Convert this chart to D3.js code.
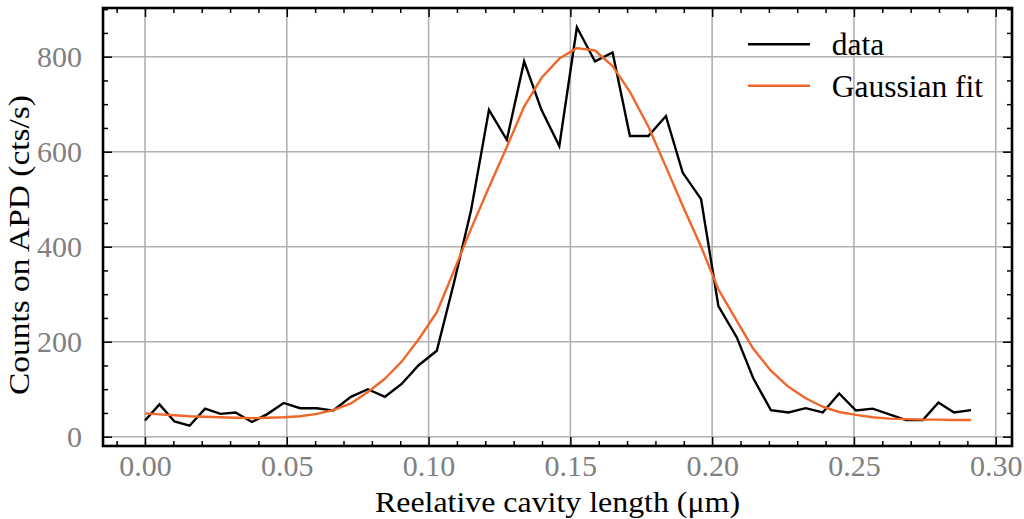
<!DOCTYPE html>
<html>
<head>
<meta charset="utf-8">
<script src="https://cdn.jsdelivr.net/npm/d3@7"></script>
<style>
  html, body { margin: 0; padding: 0; background: #fff; }
  svg { display: block; }
  text { font-family: "Liberation Serif", "Times New Roman", serif; }
</style>
</head>
<body>
<svg id="chart" width="1024" height="519"></svg>
<script>
// ---- data ----
const xValues = [0.0000, 0.0051, 0.0104, 0.0157, 0.0212, 0.0266, 0.0319, 0.0377, 0.0430, 0.0489,
                 0.0547, 0.0606, 0.0664, 0.0726, 0.0786, 0.0846, 0.0905, 0.0964, 0.1029, 0.1090,
                 0.1150, 0.1213, 0.1276, 0.1337, 0.1398, 0.1461, 0.1523, 0.1587, 0.1649, 0.1710,
                 0.1775, 0.1837, 0.1896, 0.1961, 0.2022, 0.2087, 0.2145, 0.2207, 0.2269, 0.2330,
                 0.2390, 0.2448, 0.2507, 0.2566, 0.2625, 0.2684, 0.2743, 0.2798, 0.2853, 0.2913];
const dataCounts = [34, 68, 32, 23, 59, 48, 51, 31, 47, 71,
                    60, 60, 55, 84, 100, 84, 111, 150, 181, 325,
                    477, 688, 625, 790, 688, 612, 862, 790, 809, 633,
                    633, 675, 556, 500, 275, 209, 123, 56, 51, 60,
                    51, 91, 55, 59, 47, 35, 35, 72, 51, 56];
const fitCounts = [49, 47, 45, 43, 42, 41, 40, 39, 40, 41,
                   43, 48, 56, 70, 94, 122, 158, 204, 262, 350,
                   438, 525, 610, 695, 755, 796, 818, 813, 780, 726,
                   653, 568, 486, 400, 310, 244, 185, 139, 105, 81,
                   63, 52, 46, 41, 38, 37, 36, 36, 35, 35];
const xTicks = [0.00, 0.05, 0.10, 0.15, 0.20, 0.25, 0.30];
const xTickLabels = ["0.00", "0.05", "0.10", "0.15", "0.20", "0.25", "0.30"];
const yTicks = [0, 200, 400, 600, 800];
const yTickLabels = ["0", "200", "400", "600", "800"];
const seriesNames = ["data", "Gaussian fit"];
const seriesColors = ["#000000", "#f0672a"];
const xTitle = "Reelative cavity length (\u03bcm)";
const yTitle = "Counts on APD (cts/s)";

// ---- layout ----
const L = 103, R = 1012, T = 8, B = 446;
const svg = d3.select("#chart");
const x = d3.scaleLinear().domain([-0.01481, 0.30574]).range([L, R]);
const y = d3.scaleLinear().domain([-19.6, 902.5]).range([B, T]);

const xMinor = d3.range(-10, 31).map(i => i / 100).filter(v => x(v) > L + 1 && x(v) < R - 1);
const yMinor = d3.range(0, 19).map(i => i * 50).filter(v => y(v) > T + 1 && y(v) < B - 1);

// grid
const grid = svg.append("g");
grid.selectAll("line.gx").data(xTicks).join("line")
  .attr("x1", d => x(d)).attr("x2", d => x(d)).attr("y1", T).attr("y2", B)
  .attr("stroke", "#b0b0b0").attr("stroke-width", 1.6);
grid.selectAll("line.gy").data(yTicks).join("line")
  .attr("y1", d => y(d)).attr("y2", d => y(d)).attr("x1", L).attr("x2", R)
  .attr("stroke", "#b0b0b0").attr("stroke-width", 1.6);

// lines
const pts = xValues.map((v, i) => ({x: v, d: dataCounts[i], f: fitCounts[i]}));
svg.append("clipPath").attr("id", "clip").append("rect")
  .attr("x", L).attr("y", T).attr("width", R - L).attr("height", B - T);
const plot = svg.append("g").attr("clip-path", "url(#clip)");
plot.append("path").datum(pts)
  .attr("d", d3.line().x(p => x(p.x)).y(p => y(p.d)))
  .attr("fill", "none").attr("stroke", seriesColors[0]).attr("stroke-width", 2.4)
  .attr("stroke-linejoin", "miter");
plot.append("path").datum(pts)
  .attr("d", d3.line().x(p => x(p.x)).y(p => y(p.f)))
  .attr("fill", "none").attr("stroke", seriesColors[1]).attr("stroke-width", 2.4)
  .attr("stroke-linejoin", "round");

// ticks (inward on all sides)
function tickAxis(axisFn, scale, values, size, transform) {
  const g = svg.append("g").attr("transform", transform)
    .call(axisFn(scale).tickValues(values).tickSizeInner(-size).tickSizeOuter(0).tickFormat(""));
  g.select(".domain").remove();
  g.selectAll(".tick line").attr("stroke", "#000").attr("stroke-width", 1.5);
  return g;
}
const xMinorOnly = xMinor.filter(v => !xTicks.some(t => Math.abs(t - v) < 1e-9));
const yMinorOnly = yMinor.filter(v => !yTicks.includes(v));
tickAxis(d3.axisBottom, x, xTicks, 9, `translate(0,${B})`);
tickAxis(d3.axisBottom, x, xMinorOnly, 5, `translate(0,${B})`);
tickAxis(d3.axisTop, x, xTicks, 9, `translate(0,${T})`);
tickAxis(d3.axisTop, x, xMinorOnly, 5, `translate(0,${T})`);
tickAxis(d3.axisLeft, y, yTicks, 9, `translate(${L},0)`);
tickAxis(d3.axisLeft, y, yMinorOnly, 5, `translate(${L},0)`);
tickAxis(d3.axisRight, y, yTicks, 9, `translate(${R},0)`);
tickAxis(d3.axisRight, y, yMinorOnly, 5, `translate(${R},0)`);

// tick labels
const xl = svg.append("g").attr("transform", `translate(0,${B})`)
  .call(d3.axisBottom(x).tickValues(xTicks).tickSize(0).tickFormat((d, i) => xTickLabels[i]));
xl.select(".domain").remove();
xl.selectAll("text").attr("y", 30).attr("dy", 0)
  .attr("font-size", 30).attr("fill", "#808080").attr("font-family", "Liberation Serif, serif");

const yl = svg.append("g").attr("transform", `translate(${L},0)`)
  .call(d3.axisLeft(y).tickValues(yTicks).tickSize(0).tickFormat((d, i) => yTickLabels[i]));
yl.select(".domain").remove();
yl.selectAll("text").attr("x", -21).attr("dy", "0.32em")
  .attr("font-size", 30).attr("fill", "#808080").attr("font-family", "Liberation Serif, serif");

// frame
svg.append("rect").attr("x", L).attr("y", T).attr("width", R - L).attr("height", B - T)
  .attr("fill", "none").attr("stroke", "#000").attr("stroke-width", 2.6);

// axis titles
svg.append("text").attr("x", (L + R) / 2).attr("y", 512)
  .attr("text-anchor", "middle").attr("font-size", 30).attr("fill", "#000")
  .attr("textLength", 365).attr("lengthAdjust", "spacingAndGlyphs")
  .text(xTitle);
svg.append("text").attr("transform", `translate(29,245) rotate(-90)`)
  .attr("text-anchor", "middle").attr("font-size", 30).attr("fill", "#000")
  .attr("textLength", 300).attr("lengthAdjust", "spacingAndGlyphs")
  .text(yTitle);

// legend
const lg = svg.append("g");
const legendRows = [{y: 44.3, ty: 55}, {y: 85.7, ty: 96.7}];
seriesNames.forEach((name, i) => {
  lg.append("line").attr("x1", 748).attr("x2", 810)
    .attr("y1", legendRows[i].y).attr("y2", legendRows[i].y)
    .attr("stroke", seriesColors[i]).attr("stroke-width", 2.4);
  lg.append("text").attr("x", 831.7).attr("y", legendRows[i].ty)
    .attr("font-size", 31.5).attr("fill", "#000").text(name);
});
</script>
</body>
</html>
